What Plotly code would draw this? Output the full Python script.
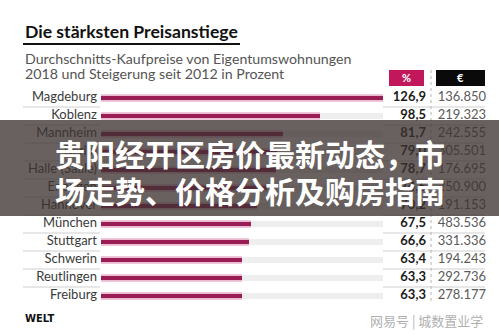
import plotly.graph_objects as go

W, H = 499, 335

cities = ["Magdeburg", "Koblenz", "Mannheim", "Berlin", "Halle (Saale)", "Erlangen",
          "Hannover", "München", "Stuttgart", "Schwerin", "Reutlingen", "Freiburg"]
pct = [126.9, 98.5, 81.7, 79.0, 78.7, 74.6, 70.2, 67.5, 66.6, 63.4, 63.3, 63.3]
eur = ["136.850", "219.323", "242.555", "305.501", "176.695", "250.900",
       "191.153", "483.536", "331.336", "194.243", "292.736", "278.177"]

title = "Die stärksten Preisanstiege"
subtitle = ["Durchschnitts-Kaufpreise von Eigentumswohnungen",
            "2018 und Steigerung seit 2012 in Prozent"]
banner_lines = ["贵阳经开区房价最新动态，市", "场走势、价格分析及购房指南"]
source = "WELT"
watermark = "网易号 | 城数置业学"

FONT = "Lato"
BAR = "#9a1c55"
MAG = "#c2185b"


def px(x):
    return x / W


def py(y):
    return 1 - y / H


fmt = [f"{v:.1f}".replace(".", ",") for v in pct]
track_max = max(pct)

fig = go.Figure()
# light track
fig.add_trace(go.Bar(y=cities, x=[track_max] * len(cities), orientation="h",
                     marker=dict(color="#eeeeee", line_width=0), width=0.36,
                     hoverinfo="skip", showlegend=False))
# glow
fig.add_trace(go.Bar(y=cities, x=pct, orientation="h",
                     marker=dict(color="rgba(214,90,150,0.35)", line_width=0), width=0.42,
                     hoverinfo="skip", showlegend=False))
fig.add_trace(go.Bar(y=cities, x=pct, orientation="h",
                     marker=dict(color=BAR, line_width=0), width=0.24,
                     showlegend=False))

# labels and values on a pixel-scale helper axis
fig.add_trace(go.Scatter(x=[97] * len(cities), y=cities, xaxis="x2", yaxis="y",
                         mode="text", text=cities, textposition="middle left",
                         textfont=dict(family=FONT, size=13, color="#3a3a3a"),
                         cliponaxis=False, hoverinfo="skip", showlegend=False))
fig.add_trace(go.Scatter(x=[426] * len(cities), y=cities, xaxis="x2", yaxis="y",
                         mode="text", text=[f"<b>{t}</b>" for t in fmt],
                         textposition="middle left",
                         textfont=dict(family=FONT, size=13, color="#1a1a1a"),
                         cliponaxis=False, hoverinfo="skip", showlegend=False))
fig.add_trace(go.Scatter(x=[486] * len(cities), y=cities, xaxis="x2", yaxis="y",
                         mode="text", text=eur, textposition="middle left",
                         textfont=dict(family=FONT, size=13, color="#5a5a5a"),
                         cliponaxis=False, hoverinfo="skip", showlegend=False))

shapes = []
for i in range(len(cities) - 1):
    for a, b in [(23, 100), (383, 485)]:
        shapes.append(dict(type="line", xref="x2", yref="y", x0=a, x1=b,
                           y0=i + 0.5, y1=i + 0.5,
                           line=dict(color="#cfcfcf", width=1), layer="above"))
# dotted divider
shapes.append(dict(type="line", xref="paper", yref="paper", x0=px(431), x1=px(431),
                   y0=py(70), y1=py(304), line=dict(color="#b5b5b5", width=1, dash="dot"),
                   layer="above"))
# header boxes
shapes.append(dict(type="rect", xref="paper", yref="paper", x0=px(389), x1=px(424),
                   y0=py(86), y1=py(70), fillcolor=MAG, line_width=0, layer="above"))
shapes.append(dict(type="rect", xref="paper", yref="paper", x0=px(436), x1=px(485),
                   y0=py(86), y1=py(70), fillcolor="#0a0a0a", line_width=0, layer="above"))
# title underline
shapes.append(dict(type="line", xref="paper", yref="paper", x0=px(23), x1=px(240),
                   y0=py(44), y1=py(44), line=dict(color="#111111", width=2), layer="above"))
# banner overlay
shapes.append(dict(type="rect", xref="paper", yref="paper", x0=0, x1=1,
                   y0=py(216), y1=py(120), fillcolor="rgba(60,50,48,0.77)",
                   line_width=0, layer="above"))

ann = [
    dict(x=px(23), y=py(32), text=f"<b>{title}</b>", xanchor="left", yanchor="middle",
         font=dict(family=FONT, size=17.6, color="#111111")),
    dict(x=px(23), y=py(59), text=subtitle[0], xanchor="left", yanchor="middle",
         font=dict(family=FONT, size=14.2, color="#555555")),
    dict(x=px(23), y=py(73), text=subtitle[1], xanchor="left", yanchor="middle",
         font=dict(family=FONT, size=14.2, color="#555555")),
    dict(x=px(406.5), y=py(78), text="<b>%</b>", xanchor="center", yanchor="middle",
         font=dict(family=FONT, size=11, color="white")),
    dict(x=px(460.5), y=py(78), text="<b>€</b>", xanchor="center", yanchor="middle",
         font=dict(family=FONT, size=11, color="white")),
    dict(x=px(23), y=py(318), text=f"<b>{source}</b>", xanchor="left", yanchor="middle",
         font=dict(family="DejaVu Sans", size=10, color="#111111")),
    dict(x=px(485), y=py(320), text=watermark, xanchor="right", yanchor="middle",
         font=dict(family="Noto Sans CJK SC", size=13, color="#b0b0b0")),
    dict(x=px(250), y=py(153), text=f"<b>{banner_lines[0]}</b>", xanchor="center",
         yanchor="middle", font=dict(family="Noto Sans CJK SC", size=30, color="white")),
    dict(x=px(250), y=py(190), text=f"<b>{banner_lines[1]}</b>", xanchor="center",
         yanchor="middle", font=dict(family="Noto Sans CJK SC", size=30, color="white")),
]
for a in ann:
    a.update(xref="paper", yref="paper", showarrow=False)

fig.update_layout(
    width=W, height=H, margin=dict(l=0, r=0, t=0, b=0),
    paper_bgcolor="white", plot_bgcolor="rgba(0,0,0,0)",
    barmode="overlay", bargap=0,
    xaxis=dict(domain=[px(101), px(383)], range=[0, track_max], visible=False,
               fixedrange=True),
    xaxis2=dict(domain=[0, 1], range=[0, W], visible=False, anchor="y", fixedrange=True),
    yaxis=dict(domain=[py(305), py(89)], range=[len(cities) - 0.5, -0.5],
               visible=False, type="category", fixedrange=True),
    shapes=shapes, annotations=ann, showlegend=False,
)

fig.write_html("out.html")
